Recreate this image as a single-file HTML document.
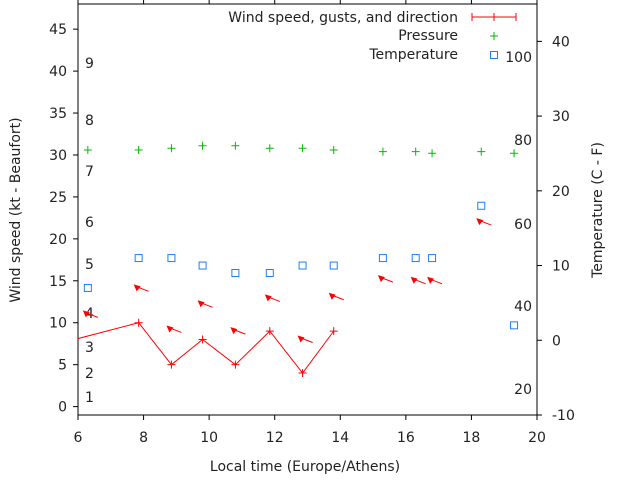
<!DOCTYPE html>
<html><head><meta charset="utf-8"><style>
body{margin:0;background:#fff}
svg text{font-family:"DejaVu Sans","Liberation Sans",sans-serif;font-size:14px;fill:#222}
</style></head><body>
<svg id="chart" width="640" height="480" xmlns="http://www.w3.org/2000/svg">
<g id="axes"></g>
<g id="marks"></g>
</svg>
<script>
const times=[6.3,7.85,8.85,9.8,10.8,11.85,12.85,13.8,15.3,16.3,16.8,18.3,19.3];
const pressure=[30.6,30.6,30.8,31.1,31.1,30.8,30.8,30.6,30.4,30.4,30.2,30.4,30.2];
const temperature=[7,11,11,10,9,9,10,10,11,11,11,18,2];
const windTimes=[5.3,7.85,8.85,9.8,10.8,11.85,12.85,13.8];
const windSpeed=[7.4,10,5,8,5,9,4,9];
const gustTimes=[6.3,7.85,8.85,9.8,10.8,11.85,12.85,13.8,15.3,16.3,16.8,18.3];
const gustSpeed=[11,14.1,9.2,12.2,9,12.9,8,13.1,15.2,15,15,22];
const xTicks=[6,8,10,12,14,16,18,20];
const yTicks=[0,5,10,15,20,25,30,35,40,45];
const y2Ticks=[-10,0,10,20,30,40];
const beaufortLabels=[["1",397],["2",373],["3",347],["4",313],["5",264],["6",222],["7",171],["8",120],["9",63]];
const fLabels=[["100",57],["80",140],["60",224],["40",306],["20",389]];
const L=78,R=537,T=4,B=415;
const X=t=>L+(t-6)/14*(R-L);
const Y=v=>B-(v+1)/49*(B-T);
const Y2=v=>B-(v+10)/55*(B-T);
const NS="http://www.w3.org/2000/svg";
const ax=document.getElementById('axes'),mk=document.getElementById('marks');
function el(tag,attrs,parent,txt){const e=document.createElementNS(NS,tag);for(const k in attrs)e.setAttribute(k,attrs[k]);if(txt!==undefined)e.textContent=txt;parent.appendChild(e);return e;}
let e;
e=el('rect',{x:L,y:T,width:R-L,height:B-T,fill:'none',stroke:'#000','stroke-width':1},ax);


xTicks.forEach(t=>{
 e=el('line',{x1:X(t),x2:X(t),y1:B,y2:B+5,stroke:'#000'},ax);
 
 
 el('line',{x1:X(t),x2:X(t),y1:T,y2:T-5,stroke:'#000'},ax);
 e=el('text',{x:X(t),y:B+27,'text-anchor':'middle'},ax,String(t));
 
 
});
yTicks.forEach(v=>{
 el('line',{x1:L-5,x2:L,y1:Y(v),y2:Y(v),stroke:'#000'},ax);
 e=el('text',{x:L-11,y:Y(v)+5,'text-anchor':'end'},ax,String(v));
 
 
});
y2Ticks.forEach(v=>{
 el('line',{x1:R,x2:R+5,y1:Y2(v),y2:Y2(v),stroke:'#000'},ax);
 e=el('text',{x:R+15,y:Y2(v)+5,'text-anchor':'start'},ax,String(v));
 
 
});
beaufortLabels.forEach(b=>{
 e=el('text',{x:85,y:b[1]+5},ax,b[0]);
 
 
});
fLabels.forEach(b=>{
 e=el('text',{x:532,y:b[1]+5,'text-anchor':'end'},ax,b[0]);
 
 
});
e=el('text',{x:305,y:471,'text-anchor':'middle'},ax,'Local time (Europe/Athens)');


e=el('text',{x:0,y:0,'text-anchor':'middle',transform:'translate(20,210) rotate(-90)'},ax,'Wind speed (kt - Beaufort)');


e=el('text',{x:0,y:0,'text-anchor':'middle',transform:'translate(602,210) rotate(-90)'},ax,'Temperature (C - F)');


const defs=el('defs',{},mk);const cp=el('clipPath',{id:'clip'},defs);el('rect',{x:L,y:T,width:R-L,height:B-T},cp);
const g=el('g',{'clip-path':'url(#clip)'},mk);
e=el('polyline',{points:windTimes.map((t,i)=>X(t)+','+Y(windSpeed[i])).join(' '),fill:'none',stroke:'#f00','stroke-width':1},g);


windTimes.forEach((t,i)=>{
 const x=X(t),y=Y(windSpeed[i]);
 e=el('path',{d:`M${x-4},${y}H${x+4}M${x},${y-4}V${y+4}`,stroke:'#f00'},g);
 
 
});
gustTimes.forEach((t,i)=>{
 const x=X(t),y=Y(gustSpeed[i]);
 const ga=el('g',{},g);
 
 
 el('line',{x1:x-3,y1:y-2,x2:x+10,y2:y+3,stroke:'#f00'},ga);
 el('path',{d:`M${x-5},${y-4}L${x+2},${y-2}L${x-2},${y+3}Z`,fill:'#f00'},ga);
});
times.forEach((t,i)=>{
 const x=X(t),y=Y(pressure[i]);
 e=el('path',{d:`M${x-4},${y}H${x+4}M${x},${y-4}V${y+4}`,stroke:'#0b0'},g);
 
 
 const ty=Y2(temperature[i]);
 e=el('rect',{x:x-3.5,y:ty-3.5,width:7,height:7,fill:'none',stroke:'#1e80f0'},g);
 
 
});
const lg=el('g',{},mk);


e=el('text',{x:458,y:22,'text-anchor':'end'},lg,'Wind speed, gusts, and direction');


el('path',{d:'M472,17H516M472,13V21M516,13V21M494,13V21',stroke:'#f00'},lg);
e=el('text',{x:458,y:40,'text-anchor':'end'},lg,'Pressure');


el('path',{d:'M490,36H498M494,32V40',stroke:'#0b0'},lg);
e=el('text',{x:458,y:59,'text-anchor':'end'},lg,'Temperature');


el('rect',{x:490.5,y:51.5,width:7,height:7,fill:'none',stroke:'#1e80f0'},lg);
</script>
</body></html>
